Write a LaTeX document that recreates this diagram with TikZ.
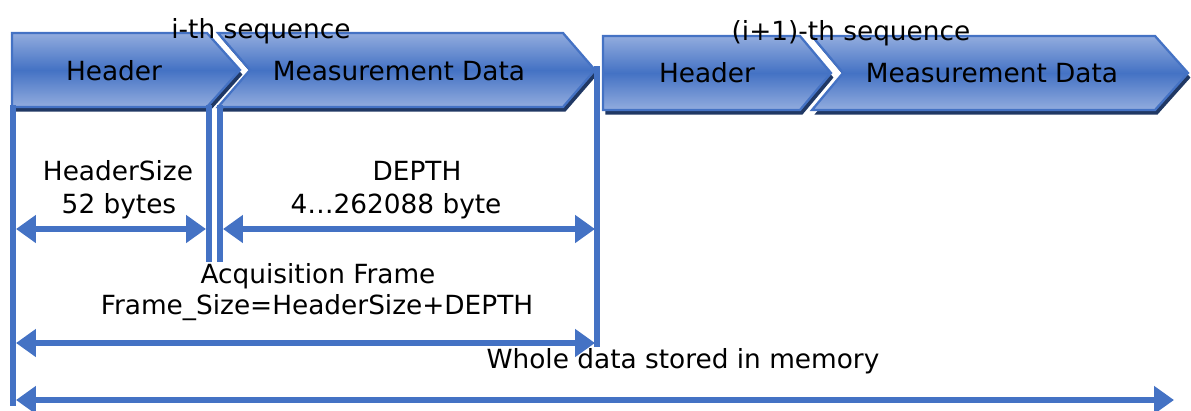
\documentclass[tikz,border=0pt]{standalone}
\usepackage{fontspec}
\setmainfont{DejaVu Sans}
\usetikzlibrary{arrows.meta, shadows, positioning}
\definecolor{lineblue}{RGB}{68,114,196}
\definecolor{lightblue}{RGB}{146,172,222}
\definecolor{shadowblue}{RGB}{32,56,100}
\tikzstyle{seqbox} = [draw=lineblue, line width=1.3pt, top color=lightblue, bottom color=lightblue, middle color=lineblue, general shadow={fill=shadowblue, shadow xshift=1.4pt, shadow yshift=-2.6pt}]
\tikzstyle{tick} = [draw=lineblue, line width=3.6pt]
\tikzstyle{dim} = [draw=lineblue, line width=3.6pt, {Triangle[length=0.4cm,width=0.54cm]}-{Triangle[length=0.4cm,width=0.54cm]}]
\tikzstyle{txt} = [anchor=base, inner sep=0pt, font=\fontsize{15}{18}\selectfont]

\begin{document}
\begin{tikzpicture}[x=0.02cm, y=-0.02cm]
\useasboundingbox (0,0) rectangle (1191,410);
%----------------------------------------------------------------------------
% Sequence blocks (header + data)
\path[seqbox] (12,33) -- (207,33) -- (240,70) -- (207,107) -- (12,107) -- cycle;
\path[seqbox] (218,33) -- (563,33) -- (595,70) -- (563,107) -- (218,107) -- (250,70) -- cycle;
\path[seqbox] (603,36) -- (800,36) -- (831,73) -- (800,110) -- (603,110) -- cycle;
\path[seqbox] (812,36) -- (1155,36) -- (1188,73) -- (1155,110) -- (812,110) -- (843,73) -- cycle;

\node (hdrA) [txt] at (114,80) {Header};
\node (datA) [txt] at (399,80) {Measurement Data};
\node (hdrB) [txt] at (707,82) {Header};
\node (datB) [txt] at (992,82) {Measurement Data};

\node (seqA) [txt] at (261,38) {i-th sequence};
\node (seqB) [txt] at (851,40) {(i+1)-th sequence};

%----------------------------------------------------------------------------
% Boundary lines
\coordinate (startTop) at (13,105);
\coordinate (startBot) at (13,406);
\coordinate (hdrEndTop) at (209,105);
\coordinate (hdrEndBot) at (209,262);
\coordinate (datBegTop) at (220,105);
\coordinate (datBegBot) at (220,262);
\coordinate (datEndTop) at (597,66);
\coordinate (datEndBot) at (597,347);

\draw [tick] (startTop) -- (startBot);
\draw [tick] (hdrEndTop) -- (hdrEndBot);
\draw [tick] (datBegTop) -- (datBegBot);
\draw [tick] (datEndTop) -- (datEndBot);

%----------------------------------------------------------------------------
% Size arrows
\coordinate (hsL) at (16,229);
\coordinate (hsR) at (206,229);
\coordinate (dpL) at (223,229);
\coordinate (dpR) at (595,229);
\coordinate (frL) at (16,343);
\coordinate (frR) at (595,343);
\coordinate (whL) at (16,400);
\coordinate (whR) at (1174,400);

\draw [dim] (hsL) -- (hsR);
\draw [dim] (dpL) -- (dpR);
\draw [dim] (frL) -- (frR);
\draw [dim] (whL) -- (whR);

\node (hsize) [txt] at (118,180) {HeaderSize};
\node (hbytes) [txt] at (119,213) {52 bytes};
\node (depth) [txt] at (417,180) {DEPTH};
\node (dbytes) [txt] at (396,213) {4…262088 byte};
\node (frame) [txt] at (318,283) {Acquisition Frame};
\node (fsize) [txt] at (317,314) {Frame\_Size=HeaderSize+DEPTH};
\node (whole) [txt] at (683,368) {Whole data stored in memory};
\end{tikzpicture}
\end{document}
